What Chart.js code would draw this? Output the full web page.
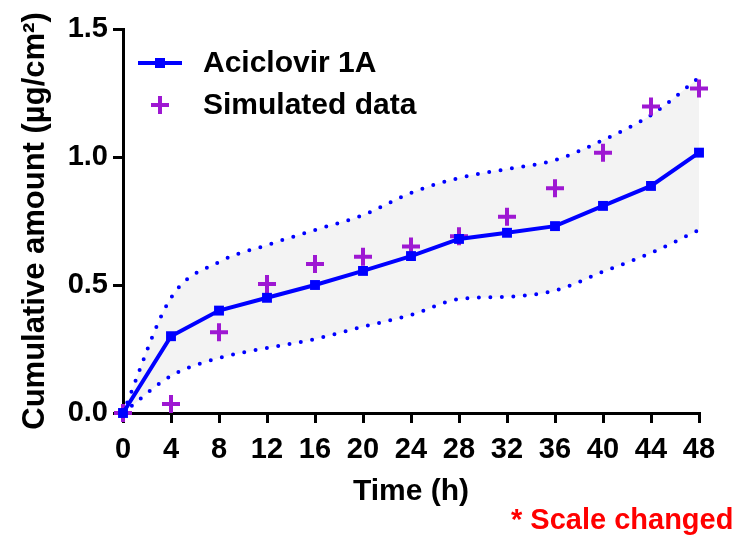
<!DOCTYPE html>
<html>
<head>
<meta charset="utf-8">
<script src="https://cdn.jsdelivr.net/npm/chart.js@4/dist/chart.umd.min.js"></script>
<style>
  html, body { margin: 0; padding: 0; background: #fff; }
  #wrap { width: 740px; height: 537px; }
</style>
</head>
<body>
<div id="wrap"><canvas id="chart" width="740" height="537"></canvas></div>
<script>
// values
const hours = [0, 4, 8, 12, 16, 20, 24, 28, 32, 36, 40, 44, 48];
const aciclovir = [0, 0.30, 0.40, 0.45, 0.50, 0.555, 0.613, 0.68, 0.704, 0.73, 0.809, 0.887, 1.017];
const simulated = [0, 0.035, 0.315, 0.504, 0.582, 0.61, 0.65, 0.69, 0.767, 0.878, 1.017, 1.197, 1.268];
const upperBand = [0, 0.45, 0.59, 0.656, 0.715, 0.773, 0.86, 0.918, 0.953, 0.988, 1.066, 1.164, 1.31];
const lowerBand = [0, 0.145, 0.215, 0.254, 0.289, 0.337, 0.383, 0.445, 0.454, 0.478, 0.552, 0.625, 0.715];
const yTicks = [0, 0.5, 1.0, 1.5];

const BLUE = '#0000ff';
const PURPLE = '#9e18d2';
const FONT = 'Liberation Sans, Arial, sans-serif';

const pts = arr => hours.map((h, i) => ({ x: h, y: arr[i] }));

// legend + footnote drawn on the canvas
const extras = {
    id: 'extras',
    afterDraw(chart) {
        const ctx = chart.ctx;
        ctx.save();
        // line entry
        ctx.strokeStyle = BLUE;
        ctx.lineWidth = 4;
        ctx.beginPath();
        ctx.moveTo(138, 63);
        ctx.lineTo(182, 63);
        ctx.stroke();
        ctx.fillStyle = BLUE;
        ctx.fillRect(155, 58, 10, 10);
        // cross entry
        ctx.strokeStyle = PURPLE;
        ctx.beginPath();
        ctx.moveTo(151, 105); ctx.lineTo(169, 105);
        ctx.moveTo(160, 96); ctx.lineTo(160, 114);
        ctx.stroke();

        ctx.fillStyle = '#000';
        ctx.font = 'bold 30px ' + FONT;
        ctx.textBaseline = 'middle';
        ctx.textAlign = 'left';
        ctx.fillText('Aciclovir 1A', 203, 64);
        ctx.fillText('Simulated data', 203, 106);

        ctx.fillStyle = '#ff0000';
        ctx.font = 'bold 29px ' + FONT;
        ctx.fillText('* Scale changed', 511, 521);
        ctx.restore();
    }
};

const dotted = {
    borderColor: BLUE,
    borderWidth: 4,
    borderDash: [0, 11.5],
    borderCapStyle: 'round',
    cubicInterpolationMode: 'monotone',
    pointRadius: 0
};

new Chart(document.getElementById('chart'), {
    type: 'line',
    data: {
        datasets: [
            {
                label: 'Aciclovir 1A',
                data: pts(aciclovir),
                borderColor: BLUE,
                backgroundColor: BLUE,
                borderWidth: 4,
                pointStyle: 'rect',
                pointRadius: 7,
                pointBorderWidth: 0,
                fill: false,
                clip: false
            },
            {
                label: 'Simulated data',
                data: pts(simulated),
                showLine: false,
                borderColor: PURPLE,
                backgroundColor: PURPLE,
                pointStyle: 'cross',
                pointRadius: 9,
                pointBorderWidth: 4,
                clip: false
            },
            Object.assign({ label: 'upper', data: pts(upperBand), fill: false }, dotted),
            // band fill goes on the last-drawn-first dataset so it sits under both dotted lines
            Object.assign({ label: 'lower', data: pts(lowerBand), backgroundColor: '#f3f3f3', fill: '-1' }, dotted)
        ]
    },
    options: {
        responsive: false,
        animation: false,
        layout: { padding: { left: 0, right: 41, top: 29, bottom: 27 } },
        plugins: {
            legend: { display: false },
            tooltip: { enabled: false }
        },
        scales: {
            x: {
                type: 'linear',
                min: 0,
                max: 48,
                afterFit: s => { s.height = 97; },
                afterBuildTicks: s => { s.ticks = hours.map(v => ({ value: v })); },
                border: { display: true, color: '#000', width: 3 },
                grid: { drawOnChartArea: false, color: '#000', tickColor: '#000', tickLength: 10, lineWidth: 3 },
                ticks: { color: '#000', padding: 10, maxRotation: 0, autoSkip: false, font: { family: FONT, size: 29, weight: 'bold' } },
                title: { display: true, text: 'Time (h)', color: '#000', padding: { top: 0, bottom: 0 }, font: { family: FONT, size: 30, weight: 'bold' } }
            },
            y: {
                min: 0,
                max: 1.5,
                afterFit: s => { s.width = 123; },
                afterBuildTicks: s => { s.ticks = yTicks.map(v => ({ value: v })); },
                border: { display: true, color: '#000', width: 3 },
                grid: { drawOnChartArea: false, color: '#000', tickColor: '#000', tickLength: 10, lineWidth: 3 },
                ticks: { color: '#000', padding: 5, callback: v => v.toFixed(1), font: { family: FONT, size: 29, weight: 'bold' } },
                title: { display: true, text: 'Cumulative amount (µg/cm²)', color: '#000', padding: { top: 17, bottom: 0 }, font: { family: FONT, size: 31, weight: 'bold' } }
            }
        }
    },
    plugins: [extras]
});
</script>
</body>
</html>
